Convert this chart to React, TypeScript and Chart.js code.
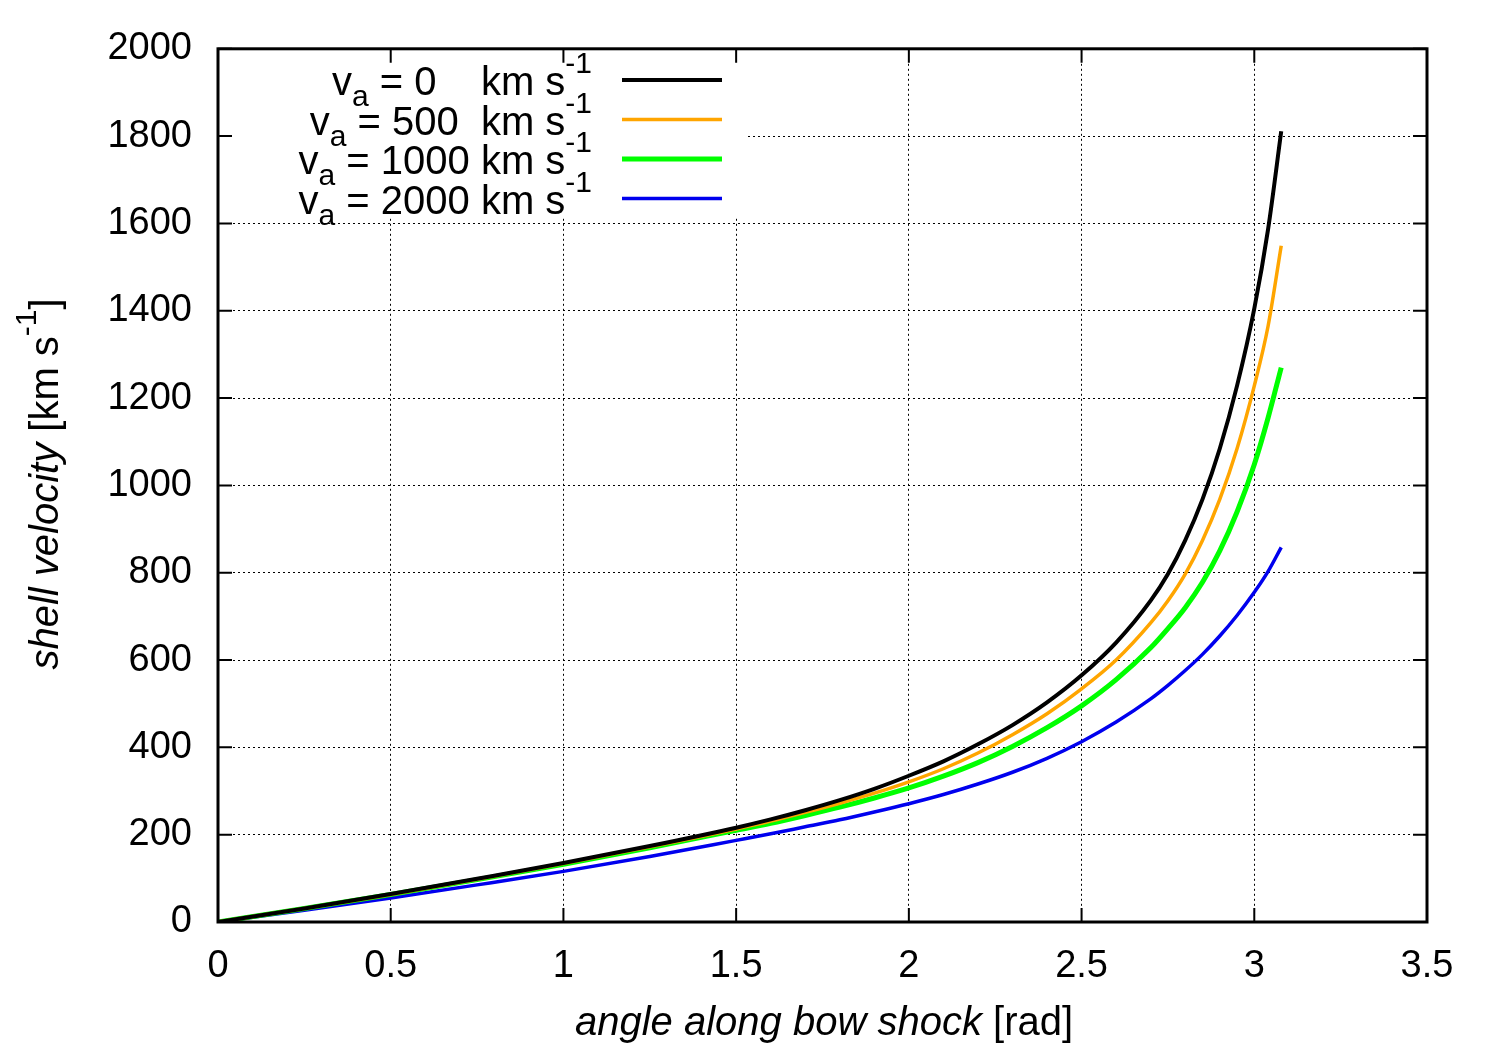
import React, { useEffect, useRef } from "react";
import { Chart, registerables } from "chart.js";

Chart.register(...registerables);

// ---- data ----
const angles = [0, 0.25, 0.5, 0.75, 1, 1.25, 1.5, 1.6, 1.7, 1.8, 1.9, 2, 2.1, 2.2, 2.3, 2.4, 2.5, 2.6, 2.7, 2.75, 2.8, 2.85, 2.9, 2.95, 3.0, 3.04, 3.078];
const vA0 = [0, 31, 64, 99, 135, 174, 216, 235, 256, 279, 305, 335, 368, 407, 451, 503, 565, 640, 736, 797, 874, 968, 1084, 1228, 1405, 1587, 1811];
const vA500 = [0, 31, 63, 98, 134, 172, 213, 231, 251, 272, 295, 321, 351, 387, 429, 477, 534, 600, 685, 736, 797, 874, 968, 1084, 1228, 1365, 1549];
const vA1000 = [0, 31, 63, 97, 132, 170, 210, 226, 244, 263, 284, 307, 334, 365, 402, 445, 495, 555, 628, 672, 720, 778, 850, 939, 1048, 1155, 1270];
const vA2000 = [0, 27, 55, 85, 116, 150, 187, 202, 218, 234, 252, 271, 292, 316, 343, 375, 413, 458, 511, 542, 576, 613, 655, 702, 755, 803, 858];

const seriesValues = [vA0, vA500, vA1000, vA2000];
const legendTexts = [" = 0    km s", " = 500  km s", " = 1000 km s", " = 2000 km s"];
const seriesColors = ["#000000", "#ffa500", "#00ff00", "#0000ee"];
const seriesWidths = [4, 3.5, 5, 3.5];

const xMin = 0, xMax = 3.5, xStep = 0.5;
const yMin = 0, yMax = 2000, yStep = 200;

const FONT = '"Liberation Sans", Arial, Helvetica, sans-serif';
const FS_TICK = 38;
const FS_TEXT = 40;

type Seg = { t: string; s?: "sub" | "sup"; i?: boolean };

function segFont(seg: Seg, size: number) {
  const sz = seg.s ? size * 0.75 : size;
  return `${seg.i ? "italic " : ""}${sz}px ${FONT}`;
}
function measureSegs(ctx: CanvasRenderingContext2D, segs: Seg[], size: number) {
  let w = 0;
  for (const s of segs) {
    ctx.font = segFont(s, size);
    w += ctx.measureText(s.t).width;
  }
  return w;
}
function drawSegs(ctx: CanvasRenderingContext2D, segs: Seg[], x: number, y: number, size: number) {
  let cx = x;
  for (const s of segs) {
    ctx.font = segFont(s, size);
    const dy = s.s === "sub" ? size * 0.28 : s.s === "sup" ? -size * 0.55 : 0;
    ctx.fillText(s.t, cx, y + dy);
    cx += ctx.measureText(s.t).width;
  }
}

const decorPlugin = {
  id: "decor",
  afterDraw(chart: any) {
    const ctx: CanvasRenderingContext2D = chart.ctx;
    const { left, right, top, bottom } = chart.chartArea;
    const xs = chart.scales.x;
    const ys = chart.scales.y;
    ctx.save();
    ctx.textBaseline = "alphabetic";
    ctx.textAlign = "left";

    // legend box (white, no border)
    ctx.fillStyle = "#fff";
    ctx.fillRect(left, top, 745 - left, 218 - top);
    ctx.fillStyle = "#000";
    const textRight = 592;
    const rowY0 = 80;
    const rowDy = 39.5;
    legendTexts.forEach((txt, i) => {
      const ly = rowY0 + rowDy * i;
      const segs: Seg[] = [{ t: "v" }, { t: "a", s: "sub" }, { t: txt }, { t: "-1", s: "sup" }];
      const w = measureSegs(ctx, segs, FS_TEXT);
      drawSegs(ctx, segs, textRight - w, ly + 15, FS_TEXT);
      ctx.strokeStyle = seriesColors[i];
      ctx.lineWidth = seriesWidths[i];
      ctx.beginPath();
      ctx.moveTo(622, ly);
      ctx.lineTo(722, ly);
      ctx.stroke();
    });

    // frame
    ctx.strokeStyle = "#000";
    ctx.lineWidth = 3;
    ctx.strokeRect(left, top, right - left, bottom - top);

    // inward tick marks (mirrored)
    ctx.lineWidth = 2;
    const tl = 14;
    ctx.beginPath();
    xs.ticks.forEach((t: any) => {
      const px = xs.getPixelForValue(t.value);
      ctx.moveTo(px, bottom);
      ctx.lineTo(px, bottom - tl);
      ctx.moveTo(px, top);
      ctx.lineTo(px, top + tl);
    });
    ys.ticks.forEach((t: any) => {
      const py = ys.getPixelForValue(t.value);
      ctx.moveTo(left, py);
      ctx.lineTo(left + tl, py);
      ctx.moveTo(right, py);
      ctx.lineTo(right - tl, py);
    });
    ctx.stroke();

    // x axis title
    ctx.fillStyle = "#000";
    const xt: Seg[] = [{ t: "angle along bow shock", i: true }, { t: " [rad]" }];
    const xw = measureSegs(ctx, xt, FS_TEXT);
    drawSegs(ctx, xt, 824 - xw / 2, 1035, FS_TEXT);

    // y axis title (rotated)
    const yt: Seg[] = [{ t: "shell velocity", i: true }, { t: " [km s" }, { t: "-1", s: "sup" }, { t: "]" }];
    const yw = measureSegs(ctx, yt, FS_TEXT);
    ctx.translate(58, 484);
    ctx.rotate(-Math.PI / 2);
    drawSegs(ctx, yt, -yw / 2, 0, FS_TEXT);
    ctx.restore();
  },
};

export default function App() {
  const ref = useRef<HTMLCanvasElement>(null);
  useEffect(() => {
    document.body.style.margin = "0";
    const canvas = ref.current!;
    const chart = new Chart(canvas, {
      type: "line",
      data: {
        datasets: seriesValues.map((vals, i) => ({
          label: legendTexts[i],
          data: angles.map((a, j) => ({ x: a, y: vals[j] })),
          borderColor: seriesColors[i],
          backgroundColor: seriesColors[i],
          borderWidth: seriesWidths[i],
          pointRadius: 0,
          fill: false,
          cubicInterpolationMode: "monotone" as const,
        })),
      },
      options: {
        animation: false,
        responsive: true,
        maintainAspectRatio: false,
        layout: { padding: { left: 0, right: 73, top: 47, bottom: 0 } },
        plugins: { legend: { display: false }, tooltip: { enabled: false } },
        scales: {
          x: {
            type: "linear",
            min: xMin,
            max: xMax,
            ticks: {
              stepSize: xStep,
              color: "#000",
              padding: 22,
              font: { family: FONT, size: FS_TICK },
              callback: (v: any) => String(v),
            },
            grid: { color: "#000", lineWidth: 1, drawTicks: false },
            border: { display: false, dash: [2, 3] },
            afterFit: (s: any) => {
              s.height = 128;
            },
          },
          y: {
            type: "linear",
            min: yMin,
            max: yMax,
            ticks: {
              stepSize: yStep,
              color: "#000",
              padding: 26,
              font: { family: FONT, size: FS_TICK },
              callback: (v: any) => String(v),
            },
            grid: { color: "#000", lineWidth: 1, drawTicks: false },
            border: { display: false, dash: [2, 3] },
            afterFit: (s: any) => {
              s.width = 218;
            },
          },
        },
      },
      plugins: [decorPlugin],
    } as any);
    return () => chart.destroy();
  }, []);
  return (
    <div style={{ width: 1500, height: 1050, position: "relative", background: "#fff" }}>
      <canvas ref={ref} />
    </div>
  );
}
